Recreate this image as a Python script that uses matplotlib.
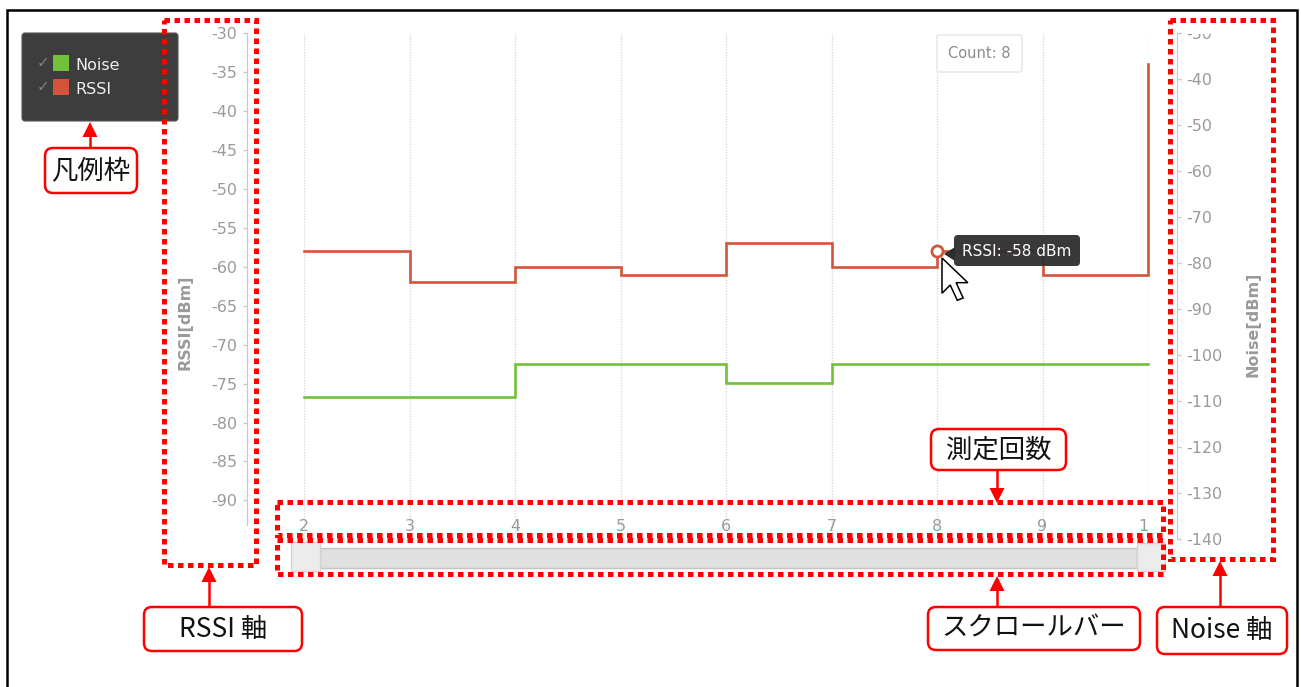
import matplotlib
matplotlib.use("Agg")
import matplotlib.pyplot as plt
from matplotlib.patches import Rectangle, FancyBboxPatch, Polygon
from matplotlib.lines import Line2D
from matplotlib.transforms import Affine2D, Bbox, TransformedBbox

# ---- data -------------------------------------------------------------
count = [2, 3, 4, 5, 6, 7, 8, 9, 10]
rssi = [-58, -62, -60, -61, -57, -60, -58, -61, -34]
noise = [-109, -109, -102, -102, -106, -102, -102, -102, -102]
series_names = ["Noise", "RSSI"]
rssi_ticks = list(range(-30, -91, -5))
noise_ticks = list(range(-30, -141, -10))
rssi_range = (-95, -30)
noise_range = (-140, -30)
hover = 6  # index of the hovered measurement
callout_texts = ["凡例枠", "RSSI 軸", "測定回数", "スクロールバー", "Noise 軸"]

# ---- style ------------------------------------------------------------
RED = "#d2553a"
GREEN = "#72c03c"
TICK_GREY = "#9a9a9a"
AXIS_GREY = "#c8c8c8"
MARK_RED = "#ff0000"

plt.rcParams["font.family"] = ["DejaVu Sans", "Noto Sans CJK JP"]
JP = ["Noto Sans CJK JP", "DejaVu Sans"]

W, H = 1301, 687
fig = plt.figure(figsize=(W / 100, H / 100), dpi=100)
fig.patch.set_facecolor("white")

# pixel coordinates (origin top-left) -> figure
PX = Affine2D().scale(1 / W, -1 / H).translate(0, 1) + fig.transFigure

# ---- chart axes -------------------------------------------------------
x0, x1, ytop, ybot = 304, 1148, 33.3, 539.3
ax = fig.add_axes([x0 / W, 1 - ybot / H, (x1 - x0) / W, (ybot - ytop) / H])
ax.patch.set_alpha(0)
ax2 = ax.twinx()

ax.set_xlim(count[0], count[-1])
ax.set_ylim(*rssi_range)
ax2.set_ylim(*noise_range)

ax2.step(count, noise, where="post", color=GREEN, lw=1.9, solid_joinstyle="miter", clip_on=False)
ax.step(count, rssi, where="post", color=RED, lw=1.9, solid_joinstyle="miter", clip_on=False, zorder=3)

# vertical dotted grid
ax.set_xticks(count)
ax.set_xticklabels([str(c) for c in count])
ax.grid(axis="x", color="#d9d9d9", lw=1, linestyle=(0, (1, 1)))
ax.grid(axis="y", visible=False)
ax.set_axisbelow(True)
ax.tick_params(axis="x", length=0, pad=-14.6, labelsize=11.5, labelcolor=TICK_GREY)

for s in ("top", "right", "bottom"):
    ax.spines[s].set_visible(False)
for s in ("top", "left", "bottom"):
    ax2.spines[s].set_visible(False)

ax.spines["left"].set_position(("outward", 41))
ax.spines["left"].set_color(AXIS_GREY)
ax.spines["left"].set_bounds(-93.2, -30)
ax.set_yticks(rssi_ticks)
ax.set_yticklabels([str(t) for t in rssi_ticks])
ax.tick_params(axis="y", length=3, width=1, color=AXIS_GREY, pad=4.3,
               labelsize=11.5, labelcolor=TICK_GREY)

ax2.spines["right"].set_position(("outward", 21.2))
ax2.spines["right"].set_color(AXIS_GREY)
ax2.set_yticks(noise_ticks)
ax2.set_yticklabels([str(t) for t in noise_ticks])
ax2.tick_params(axis="y", length=3, width=1, color=AXIS_GREY, pad=3.6,
                labelsize=11.5, labelcolor=TICK_GREY)

# labels cut off by the chart's own clipping
clip_right = TransformedBbox(Bbox([[0, 0], [1149 / W, 1]]), fig.transFigure)
last = ax.get_xticklabels()[-1]
last.set_clip_on(True)
last.set_clip_box(clip_right)
clip_top = TransformedBbox(Bbox([[0, 0], [1, 1 - 34 / H]]), fig.transFigure)
first = ax2.get_yticklabels()[0]
first.set_clip_on(True)
first.set_clip_box(clip_top)

fig.text(185, 322, "RSSI[dBm]", transform=PX, rotation=90, ha="center", va="center",
         fontsize=11.5, fontweight="bold", color=TICK_GREY)
fig.text(1253, 324, "Noise[dBm]", transform=PX, rotation=90, ha="center", va="center",
         fontsize=11.5, fontweight="bold", color=TICK_GREY)

# hovered point marker
ax.plot(count[hover], rssi[hover], "o", mfc="white", mec=RED, ms=8, mew=2,
        clip_on=False, zorder=6)

# ---- legend panel -----------------------------------------------------
fig.patches.append(FancyBboxPatch((22, 33), 156, 88, boxstyle="round,pad=0,rounding_size=3",
                                  fc="#3d3d3d", ec="#555555", lw=0.8, transform=PX))
for i, (name, col) in enumerate(zip(series_names, [GREEN, RED])):
    yc = 63 + i * 24
    fig.text(43, yc, "\u2713", transform=PX, ha="center", va="center",
             fontsize=11, color="#7c7c7c")
    fig.patches.append(Rectangle((53, yc - 8), 16, 16, fc=col, ec="none", transform=PX))
    fig.text(75, yc + 2, name, transform=PX, ha="left", va="center",
             fontsize=11.5, color="#eeeeee")

# ---- count box --------------------------------------------------------
fig.patches.append(FancyBboxPatch((937, 35), 85, 37, boxstyle="round,pad=0,rounding_size=2",
                                  fc="white", ec="#e6e6e6", lw=1, transform=PX))
fig.text(979.5, 54, f"Count: {count[hover]}", transform=PX, ha="center", va="center",
         fontsize=10.5, color="#8a8a8a")

# ---- tooltip ----------------------------------------------------------
fig.patches.append(Polygon([(944, 254), (955, 247), (955, 261)], closed=True,
                           fc="#2e2e2e", ec="none", transform=PX))
fig.patches.append(FancyBboxPatch((954, 235), 126, 31, boxstyle="round,pad=0,rounding_size=4",
                                  fc="#2e2e2e", ec="none", alpha=0.95, transform=PX))
fig.text(1017, 251, f"RSSI: {rssi[hover]} dBm", transform=PX, ha="center", va="center",
         fontsize=11, color="white")

# mouse pointer
cursor = [(0, 0), (0, 15), (3.5, 11.5), (6.5, 18), (9, 17), (6, 10.5), (11, 10.5)]
tip = (942, 258)
s = 2.35
fig.patches.append(Polygon([(tip[0] + a * s, tip[1] + b * s) for a, b in cursor], closed=True,
                           fc="white", ec="black", lw=1.1, joinstyle="miter", transform=PX))

# ---- scrollbar --------------------------------------------------------
fig.patches.append(Rectangle((320, 548), 817, 19.5, fc="#e0e0e0", ec="#c4c4c4", lw=1, transform=PX))
fig.patches.append(Rectangle((291, 542), 29, 29, fc="#ececec", ec="#d4d4d4", lw=1, transform=PX))
fig.patches.append(Rectangle((1137, 543), 28, 28, fc="#ececec", ec="#d4d4d4", lw=1, transform=PX))

# ---- outer frame ------------------------------------------------------
fig.lines.append(Line2D([7, 7, 1297, 1297], [690, 10, 10, 690], color="black", lw=1.8,
                        solid_joinstyle="miter", transform=PX))

# ---- dotted highlight frames -----------------------------------------
frames = [(164, 20, 256, 565), (277, 502, 1163, 535), (277, 540, 1163, 574), (1170, 20, 1273, 559)]
for (a, b, c, d) in frames:
    fig.patches.append(Rectangle((a, b), c - a, d - b, fill=False, ec=MARK_RED, lw=3.6,
                                 linestyle=(0, (1.1, 0.9)), transform=PX, zorder=4))

# ---- callouts ---------------------------------------------------------
boxes = [(45, 148, 137, 193), (144, 607, 302, 651), (931, 429, 1066, 470),
         (928, 607, 1140, 650), (1157, 607, 1287, 654)]
arrows = [(90, 148, 122), (209, 607, 567), (997, 470, 503), (997, 607, 576), (1220, 607, 561)]

for txt, (a, b, c, d) in zip(callout_texts, boxes):
    fig.patches.append(FancyBboxPatch((a, b), c - a, d - b, boxstyle="round,pad=0,rounding_size=8",
                                      fc="white", ec=MARK_RED, lw=1.8, transform=PX, zorder=5))
    fig.text((a + c) / 2, (b + d) / 2, txt, transform=PX, ha="center", va="center",
             fontsize=19, color="#111111", family=JP, zorder=6)

for (xa, y_from, y_tip) in arrows:
    direction = 1 if y_tip > y_from else -1
    head_base = y_tip - direction * 15
    fig.lines.append(Line2D([xa, xa], [y_from, head_base], color=MARK_RED, lw=1.8,
                            transform=PX, zorder=5))
    fig.patches.append(Polygon([(xa, y_tip), (xa - 7.5, head_base), (xa + 7.5, head_base)],
                               closed=True, fc=MARK_RED, ec="none", transform=PX, zorder=5))

fig.savefig("out.png", dpi=100)
